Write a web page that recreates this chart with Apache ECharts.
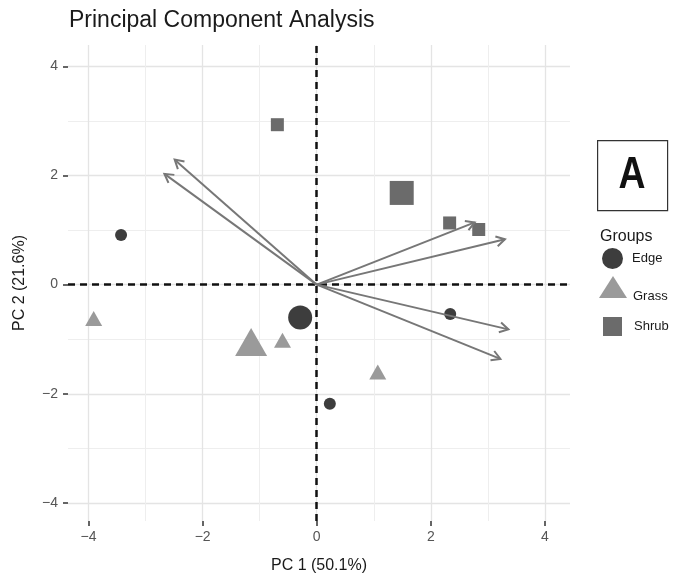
<!DOCTYPE html>
<html>
<head>
<meta charset="utf-8">
<script src="https://cdn.jsdelivr.net/npm/echarts@6/dist/echarts.min.js"></script>
<style>html,body{margin:0;padding:0;background:#fff;}#c{width:678px;height:579px;}</style>
</head>
<body>
<div id="c"></div>
<script>
// ---- data ----
const groups = ['Edge', 'Grass', 'Shrub'];
const edgeX = [-3.43, 0.23, 2.34];
const edgeY = [0.91, -2.18, -0.54];
const edgeCentroid = [-0.29, -0.60];
const grassX = [-3.91, -0.60, 1.07];
const grassY = [-0.62, -1.02, -1.60];
const grassCentroid = [-1.15, -1.05];
const shrubX = [-0.69, 2.33, 2.84];
const shrubY = [2.93, 1.13, 1.01];
const shrubCentroid = [1.49, 1.68];
const loadingX = [2.77, 3.30, 3.36, 3.22, -2.49, -2.67];
const loadingY = [1.14, 0.83, -0.82, -1.36, 2.29, 2.03];
const majorTicks = [-4, -2, 0, 2, 4];
const minorTicks = [-3, -1, 1, 3];
const xTitle = 'PC 1 (50.1%)';
const yTitle = 'PC 2 (21.6%)';
const chartTitle = 'Principal Component Analysis';

// ---- chart ----
const FONT = "'Liberation Sans', Arial, sans-serif";
const colors = {Edge: '#3d3d3d', Grass: '#9a9a9a', Shrub: '#6b6b6b'};
const symbols = {Edge: 'circle', Grass: 'triangle', Shrub: 'rect'};
const smallSize = {Edge: [12, 12], Grass: [17, 15], Shrub: [13, 13]};
const bigSize = {Edge: [24, 24], Grass: [32, 28], Shrub: [24, 24]};

function pts(xs, ys, c) {
  const d = xs.map((x, i) => [x, ys[i], 0]);
  d.push([c[0], c[1], 1]);
  return d;
}
const groupData = {
  Edge: pts(edgeX, edgeY, edgeCentroid),
  Grass: pts(grassX, grassY, grassCentroid),
  Shrub: pts(shrubX, shrubY, shrubCentroid)
};
const fmt = v => String(v).replace('-', '\u2212');

const xMin = -4.36, xMax = 4.44, yMin = -4.33, yMax = 4.39;

function axisBase(isX, index) {
  const major = index === 0;
  return {
    type: 'value', min: isX ? xMin : yMin, max: isX ? xMax : yMax,
    show: true, gridIndex: 0,
    axisLine: {show: false, onZero: false},
    axisTick: {show: major, length: 5, customValues: major ? majorTicks : minorTicks,
      lineStyle: {color: '#333', width: 1.5}},
    axisLabel: {show: major, customValues: major ? majorTicks : minorTicks, formatter: fmt,
      color: '#555', fontSize: 14, fontFamily: FONT, margin: isX ? 9 : 10},
    splitLine: {show: true, lineStyle: {color: major ? '#e4e4e4' : '#eeeeee', width: major ? 1.3 : 1}},
    name: major ? (isX ? xTitle : yTitle) : '',
    nameLocation: 'middle',
    nameGap: isX ? 37 : 40,
    nameTextStyle: {fontSize: 16, color: '#1a1a1a', fontFamily: FONT}
  };
}

const series = groups.map(g => ({
  name: g, type: 'scatter', z: 3,
  symbol: symbols[g],
  symbolSize: v => v[2] ? bigSize[g] : smallSize[g],
  itemStyle: {color: colors[g], opacity: 1},
  data: groupData[g]
}));

series.unshift({
  type: 'scatter', name: 'zero', data: [], silent: true, z: 1,
  markLine: {
    silent: true, symbol: 'none', label: {show: false},
    lineStyle: {color: '#111', width: 2.5, type: [7, 5]},
    data: [{xAxis: 0}, {yAxis: 0}]
  }
});

series.push({
  type: 'custom', name: 'loadings', z: 5, silent: true,
  data: loadingX.map((x, i) => [x, loadingY[i]]),
  renderItem: (params, api) => {
    const o = api.coord([0, 0]);
    const t = api.coord([api.value(0), api.value(1)]);
    const ang = Math.atan2(t[1] - o[1], t[0] - o[0]);
    const L = 10, a = Math.PI / 6;
    const p1 = [t[0] - L * Math.cos(ang - a), t[1] - L * Math.sin(ang - a)];
    const p2 = [t[0] - L * Math.cos(ang + a), t[1] - L * Math.sin(ang + a)];
    const st = {stroke: '#777', lineWidth: 2, fill: null};
    return {type: 'group', children: [
      {type: 'line', shape: {x1: o[0], y1: o[1], x2: t[0], y2: t[1]}, style: st},
      {type: 'polyline', shape: {points: [p1, t, p2]}, style: st}
    ]};
  }
});

function legendFor(name, icon, left, top, w, h, pad, fmtr) {
  const l = {orient: 'vertical', selectedMode: false, padding: 0,
    data: [{name: name, icon: icon}], left: left, top: top, itemWidth: w, itemHeight: h,
    textStyle: {fontSize: 13, color: '#1a1a1a', fontFamily: FONT, padding: pad, lineHeight: 18}};
  if (fmtr) l.formatter = fmtr;
  return l;
}

const option = {
  animation: false,
  backgroundColor: '#fff',
  title: {text: chartTitle, left: 64, top: 4,
    textStyle: {fontSize: 23, fontWeight: 'normal', color: '#1a1a1a', fontFamily: FONT}},
  grid: {left: 68, right: 108, top: 45, bottom: 54, containLabel: false},
  xAxis: [axisBase(true, 0), axisBase(true, 1)],
  yAxis: [axisBase(false, 0), axisBase(false, 1)],
  legend: [
    legendFor('Edge', 'circle', 602, 248, 21, 21, [0, 0, 0, 4]),
    legendFor('Grass', 'triangle', 599, 269, 28, 22, [0, 0, 0, 1], n => '\n' + n),
    legendFor('Shrub', 'rect', 603, 317, 19, 19, [0, 0, 0, 7])
  ],
  graphic: [
    {type: 'rect', left: 597, top: 140, shape: {width: 70, height: 70},
      style: {fill: '#fff', stroke: '#333', lineWidth: 1.2}},
    {type: 'text', x: 632, y: 176, scaleX: 0.85,
      style: {text: 'A', fontSize: 44, fontWeight: 'bold',
      fontFamily: FONT, fill: '#111', align: 'center', verticalAlign: 'middle'}},
    {type: 'text', x: 600, y: 237, style: {text: 'Groups', fontSize: 16, fontFamily: FONT,
      fill: '#1a1a1a', align: 'left', verticalAlign: 'middle'}}
  ],
  series: series
};
const chart = echarts.init(document.getElementById('c'), null, {renderer: 'canvas'});
chart.setOption(option);
</script>
</body>
</html>
